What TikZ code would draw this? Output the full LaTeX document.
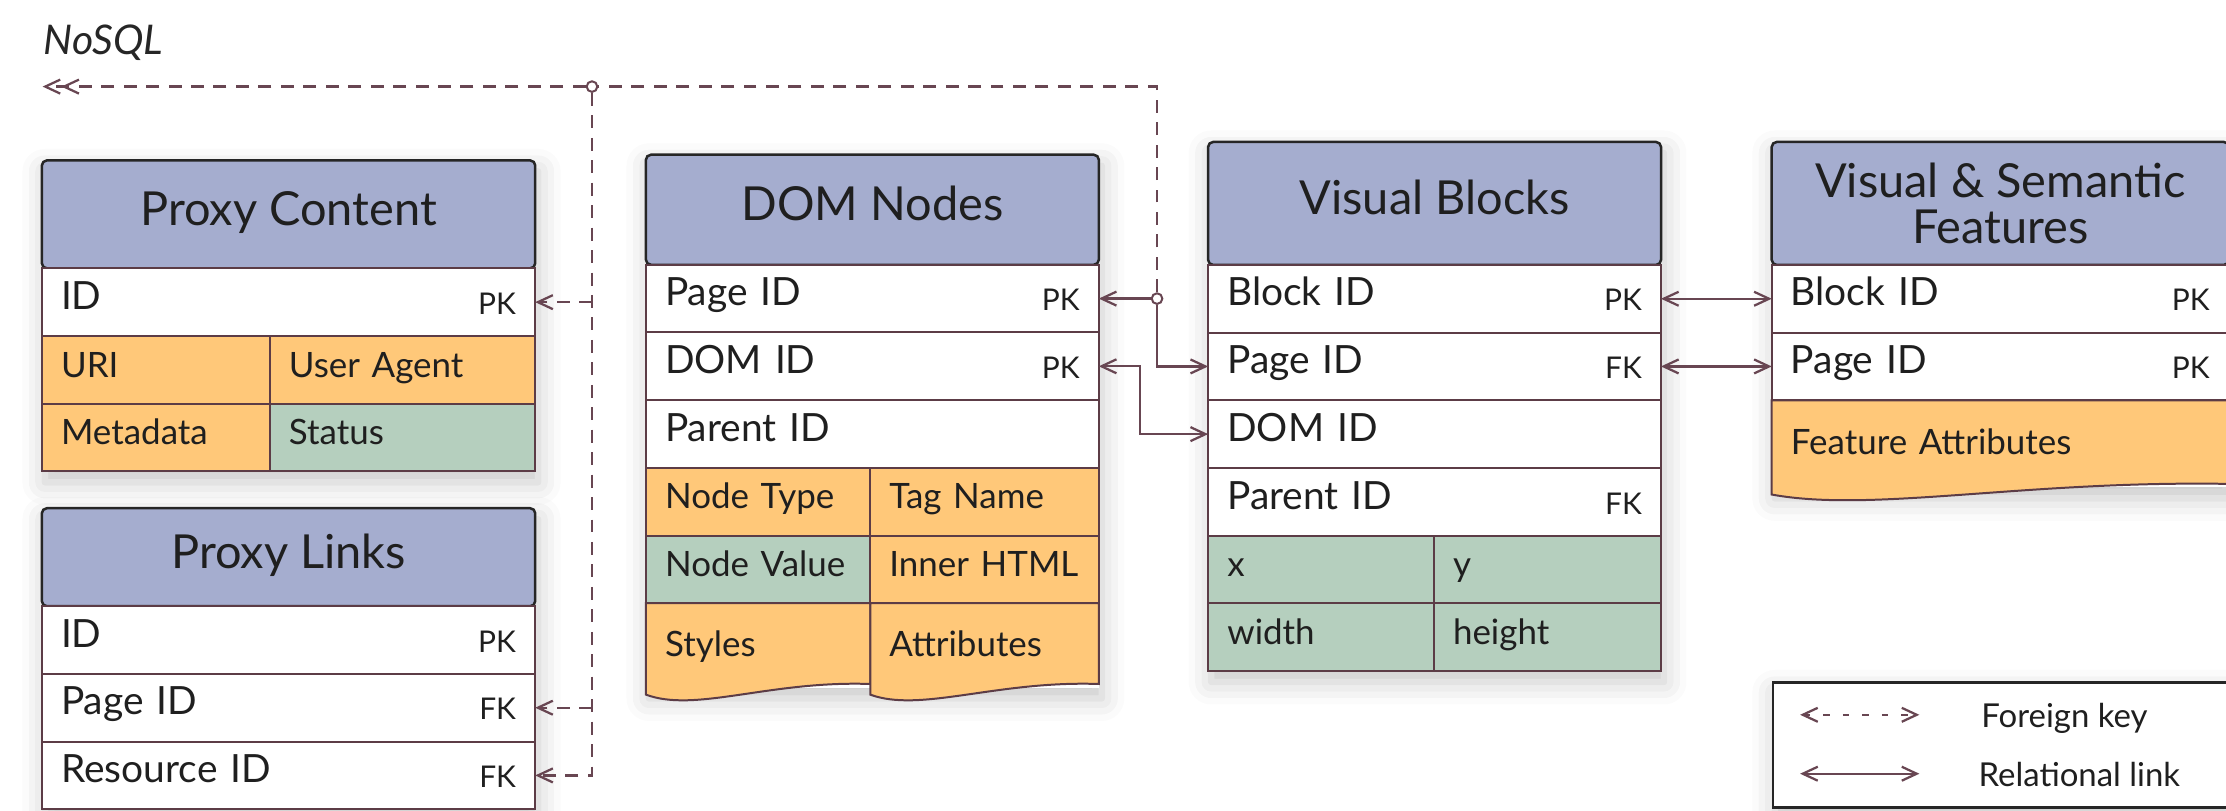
\documentclass[tikz,border=0pt]{standalone}
\usepackage{fontspec}
\setmainfont{Lato}
\usepackage{tikz}
\usetikzlibrary{arrows.meta, positioning, calc, shadows.blur}
\usepackage{xcolor}
\definecolor{headblue}{RGB}{165,173,207}
\definecolor{fieldorange}{RGB}{255,200,121}
\definecolor{fieldgreen}{RGB}{181,207,190}
\definecolor{gridbrown}{RGB}{92,60,70}
\definecolor{linkmauve}{RGB}{104,70,82}

\pgfdeclarelayer{shade}
\pgfsetlayers{shade,main}

\newcommand{\tblheadfont}{\fontsize{9.4}{9.1}\selectfont}
\newcommand{\tblrowfont}{\fontsize{7.8}{9}\selectfont}
\newcommand{\tblcellfont}{\fontsize{7}{8.5}\selectfont}
\newcommand{\keytag}[1]{\hfill\raisebox{-1pt}{\fontsize{6}{7}\selectfont #1}}

% fond d'une cellule au bas déchiré (à tracer avant son texte)
\newcommand{\torncell}[2]{%
    \filldraw[fill=#2, draw=gridbrown, line width=0.4pt]
      (#1.north west) -- (#1.north east) -- ([yshift=0.075cm]#1.south east)
      .. controls ($(#1.south east)!0.45!(#1.south west)+(0,0.10)$)
      and ($(#1.south east)!0.78!(#1.south west)+(0,-0.13)$) .. (#1.south west)
      -- cycle;}

\tikzset{
  tblhead/.style={draw=black!85, line width=0.5pt, fill=headblue, rounded corners=1pt,
    outer sep=0pt, align=center, font=\tblheadfont, text=black!88,
    text height=6.5pt, text depth=2pt},
  tblrow/.style={draw=gridbrown, line width=0.4pt, fill=white, outer sep=0pt,
    inner xsep=0.135cm, minimum height=0.47cm, align=left, font=\tblrowfont,
    text=black!88, text height=4.9pt, text depth=2pt},
  cellorange/.style={tblrow, fill=fieldorange, font=\tblcellfont},
  cellgreen/.style={tblrow, fill=fieldgreen, font=\tblcellfont},
  torn/.style={tblrow, draw=none, fill=none, font=\tblcellfont},
  fk/.style={linkmauve, line width=0.45pt, dash pattern=on 2.6pt off 1.9pt},
  rel/.style={linkmauve, line width=0.45pt},
  junction/.style={circle, draw=linkmauve, fill=white, line width=0.4pt,
    inner sep=0pt, minimum size=0.075cm},
  tblshadow/.style={fill=white, blur shadow={shadow xshift=0.6pt,
    shadow yshift=-2.2pt, shadow blur radius=4.5pt, shadow opacity=22}},
  legtext/.style={font=\fontsize{6.6}{8}\selectfont, text=black!88, inner sep=0pt},
}

\begin{document}
\begin{tikzpicture}[>={Straight Barb[length=3pt,width=2.8pt]}]
    \useasboundingbox (0,0) rectangle (15.68,5.71);

    \node[font=\fontsize{8.2}{9}\selectfont\itshape, text=black!85, inner sep=0pt, anchor=west]
        (nosql) at (0.30,5.41) {NoSQL};

    % --- Proxy Content ---
    \node[tblhead, minimum width=3.475cm, minimum height=0.76cm, anchor=north west]
        (pc) at (0.295,4.58) {Proxy Content};
    \node[tblrow, text width=3.205cm, below=0pt of pc] (pc-id) {ID\keytag{PK}};
    \node[cellorange, text width=1.335cm, anchor=north west] (pc-uri) at (pc-id.south west) {URI};
    \node[cellorange, text width=1.60cm, right=0pt of pc-uri] (pc-agent) {User Agent};
    \node[cellorange, text width=1.335cm, below=0pt of pc-uri] (pc-meta) {Metadata};
    \node[cellgreen, text width=1.60cm, right=0pt of pc-meta] (pc-status) {Status};

    % --- Proxy Links ---
    \node[tblhead, minimum width=3.475cm, minimum height=0.69cm, anchor=north west]
        (pl) at (0.295,2.13) {Proxy Links};
    \node[tblrow, text width=3.205cm, below=0pt of pl] (pl-id) {ID\keytag{PK}};
    \node[tblrow, text width=3.205cm, below=0pt of pl-id] (pl-page) {Page ID\keytag{FK}};
    \node[tblrow, text width=3.205cm, below=0pt of pl-page] (pl-res) {Resource ID\keytag{FK}};

    % --- DOM Nodes ---
    \node[tblhead, minimum width=3.19cm, minimum height=0.775cm, anchor=north west]
        (dn) at (4.55,4.62) {DOM Nodes};
    \node[tblrow, text width=2.92cm, below=0pt of dn] (dn-page) {Page ID\keytag{PK}};
    \node[tblrow, text width=2.92cm, below=0pt of dn-page] (dn-dom) {DOM ID\keytag{PK}};
    \node[tblrow, text width=2.92cm, below=0pt of dn-dom] (dn-parent) {Parent ID};
    \node[cellorange, text width=1.31cm, anchor=north west] (dn-type) at (dn-parent.south west) {Node Type};
    \node[cellorange, text width=1.34cm, right=0pt of dn-type] (dn-tag) {Tag Name};
    \node[cellgreen, text width=1.31cm, below=0pt of dn-type] (dn-value) {Node Value};
    \node[cellorange, text width=1.34cm, right=0pt of dn-value] (dn-html) {Inner HTML};
    % cellules déchirées : cadre vide, fond, puis texte
    \node[torn, text width=1.31cm, minimum height=0.644cm, below=0pt of dn-value] (dn-styles) {};
    \node[torn, text width=1.34cm, minimum height=0.644cm, below=0pt of dn-html] (dn-attr) {};
    \torncell{dn-styles}{fieldorange}
    \torncell{dn-attr}{fieldorange}
    \node[torn, text width=1.31cm, minimum height=0.644cm] (dn-styles-txt) at (dn-styles) {Styles};
    \node[torn, text width=1.34cm, minimum height=0.644cm] (dn-attr-txt) at (dn-attr) {Attributes};

    % --- Visual Blocks ---
    \node[tblhead, minimum width=3.19cm, minimum height=0.866cm, anchor=north west]
        (vb) at (8.51,4.71) {Visual Blocks};
    \node[tblrow, text width=2.92cm, below=0pt of vb] (vb-block) {Block ID\keytag{PK}};
    \node[tblrow, text width=2.92cm, below=0pt of vb-block] (vb-page) {Page ID\keytag{FK}};
    \node[tblrow, text width=2.92cm, below=0pt of vb-page] (vb-dom) {DOM ID};
    \node[tblrow, text width=2.92cm, below=0pt of vb-dom] (vb-parent) {Parent ID\keytag{FK}};
    \node[cellgreen, text width=1.32cm, anchor=north west] (vb-x) at (vb-parent.south west) {x};
    \node[cellgreen, text width=1.33cm, right=0pt of vb-x] (vb-y) {y};
    \node[cellgreen, text width=1.32cm, below=0pt of vb-x] (vb-w) {width};
    \node[cellgreen, text width=1.33cm, right=0pt of vb-w] (vb-h) {height};

    % --- Visual & Semantic Features ---
    \node[tblhead, minimum width=3.22cm, minimum height=0.866cm, anchor=north west,
          text height=, text depth=]
        (vsf) at (12.48,4.71) {Visual \& Semantic\\Features};
    \node[tblrow, text width=2.95cm, below=0pt of vsf] (vsf-block) {Block ID\keytag{PK}};
    \node[tblrow, text width=2.95cm, below=0pt of vsf-block] (vsf-page) {Page ID\keytag{PK}};
    \node[torn, text width=2.95cm, minimum height=0.664cm, below=0pt of vsf-page] (vsf-feat) {};
    \torncell{vsf-feat}{fieldorange}
    \node[torn, text width=2.95cm, minimum height=0.664cm] (vsf-feat-txt) at (vsf-feat) {Feature Attributes};

    % --- Liens relationnels ---
    \coordinate (vline) at (8.15,5.10);
    \node[junction] (j-page) at (vline |- dn-page.east) {};
    \draw[rel, ->] (j-page) -- (dn-page.east);
    \draw[rel, ->] (j-page) |- (vb-page.west);
    \draw[rel, <->] (dn-dom.east) -- ++(0.29,0) |- (vb-dom.west);
    \draw[rel, <->] (vb-block.east) -- (vsf-block.west);
    \draw[rel, <->] (vb-page.east) -- (vsf-page.west);

    % --- Clés étrangères (pointillés) ---
    \node[junction] (j-top) at (4.17,5.10) {};
    \coordinate (nosql-end) at (0.30,5.10);
    \coordinate (tap-pc) at (j-top |- pc-id.east);
    \coordinate (tap-pl) at (j-top |- pl-page.east);
    \draw[fk] (j-page) -- (vline) -- (j-top);
    \draw[fk, ->>] (j-top) -- (nosql-end);
    \draw[fk, ->] (j-top) |- (pl-res.east);
    \draw[fk, ->] (tap-pc) -- (pc-id.east);
    \draw[fk, ->] (tap-pl) -- (pl-page.east);

    % --- Légende ---
    \node[draw=black!85, line width=0.45pt, fill=white, minimum width=3.22cm,
          minimum height=0.88cm, anchor=north west] (legend) at (12.48,0.91) {};
    \coordinate (lg-fk-a) at (12.68,0.675);
    \coordinate (lg-fk-b) at (13.52,0.675);
    \coordinate (lg-rel-a) at (12.68,0.26);
    \coordinate (lg-rel-b) at (13.52,0.26);
    \draw[fk, dash pattern=on 1.3pt off 2.6pt, <->] (lg-fk-a) -- (lg-fk-b);
    \draw[rel, <->] (lg-rel-a) -- (lg-rel-b);
    \node[legtext, anchor=mid west] (lg-fk) at (13.95,0.675) {Foreign key};
    \node[legtext, anchor=mid west] (lg-rel) at (13.93,0.26) {Relational link};

    % --- Ombres portées ---
    \begin{pgfonlayer}{shade}
        \path[tblshadow] (pc.north west) rectangle (pc-status.south east);
        \path[tblshadow] (pl.north west) rectangle (pl-res.south east);
        \path[tblshadow] (dn.north west) rectangle ([yshift=0.05cm]dn-attr.south east);
        \path[tblshadow] (vb.north west) rectangle (vb-h.south east);
        \path[tblshadow] (vsf.north west) rectangle ([yshift=0.05cm]vsf-feat.south east);
        \path[tblshadow] (legend.north west) rectangle (legend.south east);
    \end{pgfonlayer}
\end{tikzpicture}
\end{document}
